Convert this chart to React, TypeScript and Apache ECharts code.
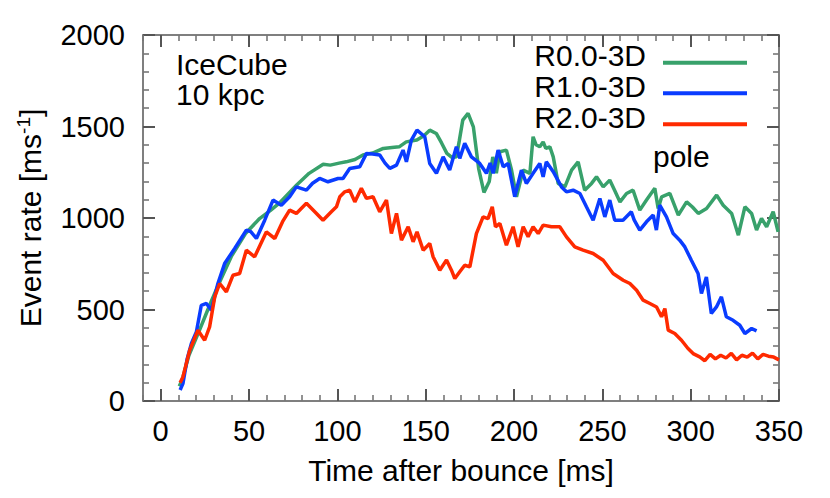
import React, { useEffect, useRef } from "react";
import * as echarts from "echarts";

const FONT = "'Liberation Sans', Arial, Helvetica, sans-serif";

const xMajorTicks = [0, 50, 100, 150, 200, 250, 300, 350];
const xMinorTicks = [-10, 10, 20, 30, 40, 60, 70, 80, 90, 110, 120, 130, 140, 160, 170, 180, 190, 210, 220, 230, 240, 260, 270, 280, 290, 310, 320, 330, 340];

const seriesNames = ["R0.0-3D", "R1.0-3D", "R2.0-3D"];
const seriesColors = ["#38a16b", "#0a3cff", "#ff2a00"];

const r0Time = [10.5, 12, 16, 22, 28, 33, 40, 48, 56, 62, 67, 72, 77, 84, 92, 96, 101, 105, 110, 114.5, 120, 126, 131, 135, 139, 145, 149, 152.3, 156, 159, 162, 165, 167.4, 169, 171, 174, 177, 180, 183, 186, 188, 190, 192, 195.7, 198.6, 201.4, 205.2, 209, 210.8, 212.5, 214.6, 216.5, 218, 220.3, 222.2, 225, 228.8, 232.6, 236.3, 240, 243.9, 246.7, 250.5, 254.2, 257, 260, 263.7, 267.4, 271.2, 275, 279.7, 281.6, 283.6, 288.2, 293, 297.7, 301, 304.3, 309, 314.7, 318.4, 323.2, 327, 330.7, 334.5, 337.3, 340.1, 343, 346.7, 349.5];
const r0Rate = [80, 110, 250, 387, 530, 642, 790, 915, 997, 1040, 1080, 1130, 1180, 1244, 1294, 1289, 1300, 1307, 1320, 1344, 1355, 1380, 1385, 1389, 1416, 1426, 1450, 1480, 1462, 1410, 1353, 1330, 1334, 1420, 1535, 1572, 1498, 1270, 1140, 1200, 1334, 1245, 1362, 1371, 1262, 1116, 1262, 1244, 1444, 1400, 1389, 1416, 1380, 1389, 1334, 1189, 1170, 1262, 1307, 1152, 1189, 1225, 1170, 1207, 1150, 1088, 1134, 1152, 1043, 1098, 1162, 1052, 1116, 1134, 1016, 1088, 1060, 1025, 1052, 1125, 1070, 1025, 906, 1061, 1025, 934, 998, 952, 1034, 924];

const r1Time = [11, 12.6, 15, 17.4, 20.2, 23, 25.9, 28.7, 32.4, 36.2, 41.9, 48.5, 51, 54.2, 58.9, 63.6, 68.3, 73, 76.8, 82.5, 86, 90, 94.7, 100.4, 103.2, 107, 112.7, 116.5, 120, 124, 127, 129.7, 133.5, 137.2, 139.1, 141.9, 145.1, 149.5, 152.3, 156.1, 159.9, 163.6, 167.4, 169.3, 172.1, 175.9, 180.6, 184.4, 186.5, 188.2, 191, 193.9, 196.7, 200.4, 204.2, 207, 210.8, 214.6, 216.5, 218.3, 222.2, 226.9, 229.7, 233.5, 237.3, 241, 244.8, 248.6, 251.4, 254.2, 257, 261.7, 266.4, 268, 271.2, 275, 278.8, 280.6, 282.5, 286.3, 290.1, 293.8, 296.7, 300.4, 304.2, 306.1, 308.9, 311.7, 314.6, 317.4, 320.2, 324, 327.8, 330.7, 334.5, 337.3];
const r1Rate = [60, 95, 230, 314, 377, 523, 533, 496, 642, 751, 834, 934, 925, 888, 988, 1098, 1070, 1116, 1170, 1152, 1190, 1216, 1198, 1216, 1216, 1271, 1280, 1353, 1350, 1344, 1300, 1271, 1289, 1371, 1307, 1426, 1480, 1444, 1298, 1244, 1334, 1262, 1389, 1326, 1408, 1334, 1298, 1244, 1300, 1244, 1371, 1280, 1298, 1116, 1262, 1189, 1244, 1298, 1225, 1307, 1253, 1170, 1143, 1152, 1134, 1061, 988, 1107, 1006, 1098, 988, 988, 1034, 990, 934, 979, 1016, 934, 1070, 1006, 915, 879, 842, 769, 697, 587, 678, 478, 514, 569, 460, 441, 414, 369, 396, 383];

const r2Time = [11, 12.6, 16.4, 21.1, 24.9, 27.7, 30.6, 33.4, 37.2, 40.9, 44.7, 48.5, 53.2, 59.8, 64.6, 69, 73, 76.8, 82.5, 88.2, 91.9, 96.6, 99.5, 101.4, 104.2, 107, 109.9, 113.6, 116.5, 120.2, 124, 127.8, 130.6, 133.5, 136.3, 140.1, 142.9, 145.1, 148.6, 152.3, 154.2, 158, 161.8, 164.6, 166.5, 169.3, 172.1, 175, 178.7, 182.5, 185.3, 187.7, 189.5, 192, 195.7, 199.5, 202.3, 205.2, 208, 210.8, 213.7, 216.5, 221.2, 225.9, 229.7, 234.4, 239.1, 244.8, 250.5, 256.1, 261.8, 265.6, 269.4, 273.1, 276.9, 280.7, 283.5, 285.4, 287.3, 291, 294.8, 298.5, 301.4, 305.1, 308, 311, 314, 317, 320, 323, 326, 329, 332, 335, 338, 341, 344, 347, 350];
const r2Rate = [100, 131, 277, 387, 332, 405, 569, 642, 596, 687, 697, 824, 788, 924, 888, 980, 1043, 1025, 1080, 1025, 988, 1034, 1061, 1116, 1143, 1152, 1088, 1162, 1107, 1116, 1034, 1098, 915, 1025, 879, 952, 870, 924, 824, 861, 788, 715, 770, 715, 669, 706, 742, 733, 915, 1006, 997, 1061, 952, 970, 851, 952, 842, 952, 897, 952, 915, 961, 952, 952, 897, 842, 824, 806, 769, 697, 660, 642, 605, 551, 533, 514, 460, 505, 387, 369, 332, 287, 259, 241, 220, 255, 230, 250, 235, 260, 225, 250, 240, 262, 230, 255, 245, 240, 225];

const pairs = (t: number[], v: number[]) => t.map((x, i) => [x, v[i]]);

export default function App() {
  const ref = useRef<HTMLDivElement>(null);
  useEffect(() => {
    if (!ref.current) return;
    const chart = echarts.init(ref.current, null, { renderer: "svg" });
    const majorTickStyle = { color: "#555", width: 2 };
    const minorTickStyle = { color: "#777", width: 1.6 };
    const axisLineStyle = { color: "#555", width: 1.5 };
    const gridBox = { left: 143, right: 51, top: 35, bottom: 97, show: false };

    // grid 1: frame and ticks only (no labels, no names, no series)
    const tickX = (position: string, major: boolean) => ({
      type: "value",
      gridIndex: 1,
      min: -10,
      max: 350,
      position,
      splitLine: { show: false },
      axisLine: { show: major, onZero: false, lineStyle: axisLineStyle },
      axisTick: {
        show: true,
        inside: true,
        length: major ? 12 : 6,
        customValues: major ? xMajorTicks : xMinorTicks,
        lineStyle: major ? majorTickStyle : minorTickStyle,
      },
      axisLabel: { show: false },
    });
    const tickY = (position: string) => ({
      type: "value",
      gridIndex: 1,
      min: 0,
      max: 2000,
      interval: 500,
      position,
      splitLine: { show: false },
      axisLine: { show: true, onZero: false, lineStyle: axisLineStyle },
      axisTick: { show: true, inside: true, length: 12, lineStyle: majorTickStyle },
      minorTick: { show: true, splitNumber: 5, length: 6, lineStyle: minorTickStyle },
      axisLabel: { show: false },
    });

    // grid 0: data, labels and titles
    const xMain = {
      type: "value",
      gridIndex: 0,
      min: -10,
      max: 350,
      position: "bottom",
      splitLine: { show: false },
      axisLine: { show: false, onZero: false },
      axisTick: { show: false },
      axisLabel: { customValues: xMajorTicks, fontSize: 29, fontFamily: FONT, color: "#000", margin: 15, hideOverlap: false },
      name: "Time after bounce [ms]",
      nameLocation: "middle",
      nameGap: 54,
      nameMoveOverlap: false,
      nameTextStyle: { fontSize: 30, fontFamily: FONT, color: "#000" },
    };
    const yMain = {
      type: "value",
      gridIndex: 0,
      min: 0,
      max: 2000,
      interval: 500,
      position: "left",
      splitLine: { show: false },
      axisLine: { show: false, onZero: false },
      axisTick: { show: false },
      axisLabel: { fontSize: 29, fontFamily: FONT, color: "#000", margin: 18, hideOverlap: false, formatter: (v: number) => String(v) },
      name: "{a|Event rate [ms}{sup|-1}{a|]}",
      nameLocation: "middle",
      nameRotate: 90,
      nameGap: 96,
      nameMoveOverlap: false,
      nameTextStyle: {
        rich: {
          a: { fontSize: 30, fontFamily: FONT, color: "#000" },
          sup: { fontSize: 19, fontFamily: FONT, color: "#000", padding: [0, 0, 14, 0] },
        },
      },
    };

    const series = [pairs(r0Time, r0Rate), pairs(r1Time, r1Rate), pairs(r2Time, r2Rate)].map((d, i) => ({
      type: "line",
      name: seriesNames[i],
      data: d,
      showSymbol: false,
      xAxisIndex: 0,
      yAxisIndex: 0,
      lineStyle: { color: seriesColors[i], width: 3.5 },
    }));

    const legendY = [62.7, 93.3, 124.3];
    const graphics: any[] = [];
    seriesNames.forEach((n, i) => {
      graphics.push({
        type: "text",
        right: 184,
        top: legendY[i] - 22,
        style: { text: n, font: `30px ${FONT}`, fill: "#000" },
      });
      graphics.push({
        type: "line",
        shape: { x1: 663, y1: legendY[i], x2: 747, y2: legendY[i] },
        style: { stroke: seriesColors[i], lineWidth: 4 },
      });
    });
    graphics.push({ type: "text", left: 176, top: 49, style: { text: "IceCube", font: `30px ${FONT}`, fill: "#000" } });
    graphics.push({ type: "text", left: 176, top: 79, style: { text: "10 kpc", font: `30px ${FONT}`, fill: "#000" } });
    graphics.push({ type: "text", left: 653, top: 141, style: { text: "pole", font: `30px ${FONT}`, fill: "#000" } });

    chart.setOption({
      animation: false,
      backgroundColor: "#fff",
      grid: [{ ...gridBox }, { ...gridBox }],
      xAxis: [xMain, tickX("bottom", true), tickX("top", true), tickX("bottom", false), tickX("top", false)],
      yAxis: [yMain, tickY("left"), tickY("right")],
      series,
      graphic: graphics,
    });
    return () => chart.dispose();
  }, []);
  return <div ref={ref} style={{ width: 830, height: 498, margin: "-8px 0 0 -8px" }} />;
}
